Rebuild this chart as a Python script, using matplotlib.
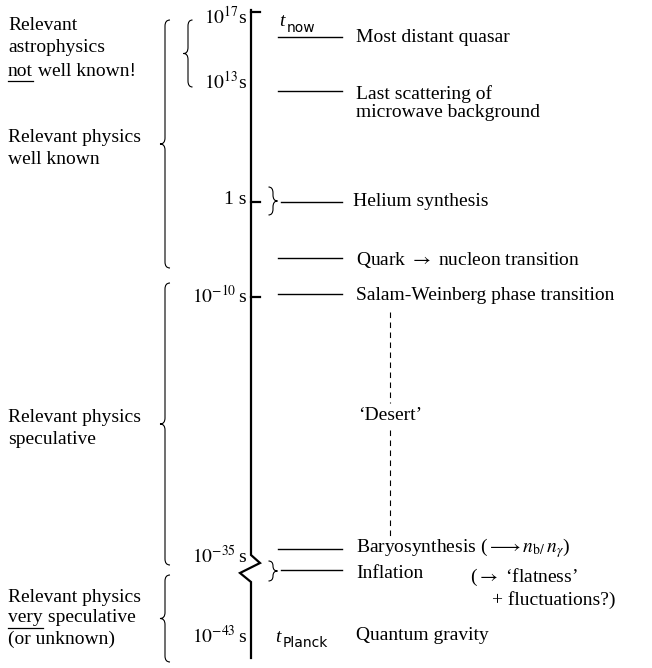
import matplotlib
matplotlib.use("Agg")
import matplotlib.pyplot as plt
from matplotlib.path import Path
from matplotlib.patches import PathPatch

plt.rcParams['font.family'] = ['Liberation Serif', 'DejaVu Serif']
plt.rcParams['mathtext.fontset'] = 'stix'

# time-axis epochs (label, vertical position on the drawing)
epoch_labels = [r'$10^{17}$s', r'$10^{13}$s', '1 s', r'$10^{-10}\,$s',
                r'$10^{-35}\,$s', r'$10^{-43}\,$s']
epoch_y = [17, 82, 200, 296, 556, 636]
tick_y = [12, 202, 297]

# events on the right of the axis
event_labels = ['Most distant quasar', 'Last scattering of\nmicrowave background',
                'Helium synthesis', r'Quark $\rightarrow$ nucleon transition',
                'Salam-Weinberg phase transition',
                r'Baryosynthesis ($\longrightarrow n_{\rm b/}\,n_{\gamma}$)',
                'Inflation', 'Quantum gravity']
event_text_y = [37, 103, 202, 260, 295, 548, 573, 636]
event_line_y = [37, 91, 202, 258, 294, 549, 570, None]

# regimes on the left, with the brace extent
regime_lines = [['Relevant', 'astrophysics', '_not_ well known!'],
                ['Relevant physics', 'well known'],
                ['Relevant physics', 'speculative'],
                ['Relevant physics', '_very_ speculative', '(or unknown)']]
regime_y = [[25, 47, 71], [138, 159], [418, 440], [598, 618, 639]]
brace_span = [(20, 87), (20, 268), (283, 565), (575, 662)]
brace_x = [188, 165, 165, 165]

FS = 14


def brace(ax, x, y0, y1, w, facing=1, lw=1.0):
    # facing=1 -> "{" (tip to the left), -1 -> "}"
    ym = (y0 + y1) / 2
    r = min(6, (y1 - y0) / 4)
    e = x + facing * w / 2
    tip = x - facing * w / 2
    verts = [(e, y0), (x, y0), (x, y0 + r), (x, ym - r), (x, ym), (tip, ym),
             (x, ym), (x, ym + r), (x, y1 - r), (x, y1), (e, y1)]
    codes = [Path.MOVETO, Path.CURVE3, Path.CURVE3, Path.LINETO, Path.CURVE3,
             Path.CURVE3, Path.CURVE3, Path.CURVE3, Path.LINETO, Path.CURVE3,
             Path.CURVE3]
    ax.add_patch(PathPatch(Path(verts, codes), fill=False, lw=lw, color='black'))


fig = plt.figure(figsize=(6.52, 6.68), dpi=100)
ax = fig.add_axes([0, 0, 1, 1])
ax.set_xlim(0, 652)
ax.set_ylim(668, 0)
ax.axis('off')

# main time axis with the zigzag break
ax.plot([251, 251, 260, 240, 251, 251], [10, 555, 563, 573, 582, 658],
        color='black', lw=1.6, solid_joinstyle='miter')
for ty in tick_y:
    ax.plot([251, 260], [ty, ty], color='black', lw=1.6)

for lab, y in zip(epoch_labels, epoch_y):
    ax.text(247, y, lab, ha='right', va='center', fontsize=FS)

# events
for lab, ty, ly in zip(event_labels, event_text_y, event_line_y):
    x0 = 353 if lab.startswith('Helium') else 356
    ax.text(x0, ty, lab, ha='left', va='center', fontsize=FS, linespacing=1.1)
    if ly is not None:
        xs = 281 if lab.startswith(('Helium', 'Inflation')) else 278
        ax.plot([xs, 342], [ly, ly], color='black', lw=1.0)

brace(ax, 273, 187, 215, 9, facing=-1, lw=0.8)
brace(ax, 273, 561, 581, 9, facing=-1, lw=0.8)

# t_now and t_Planck
ax.text(279, 22, 't', style='italic', fontsize=FS, va='center')
ax.text(287, 28, 'now', family='DejaVu Sans', fontsize=10, va='center')
ax.text(275, 637, 't', style='italic', fontsize=FS, va='center')
ax.text(283, 643, 'Planck', family='DejaVu Sans', fontsize=10, va='center')

ax.text(470, 577, r"($\rightarrow$ " + "\u2018flatness\u2019", fontsize=FS, va='center')
ax.text(492, 600, "+ fluctuations?)", fontsize=FS, va='center')

# the 'Desert'
ax.plot([390, 390], [312, 403], color='black', lw=0.8, ls=(0, (5, 4)))
ax.plot([390, 390], [430, 537], color='black', lw=0.8, ls=(0, (5, 4)))
ax.text(390, 416, "\u2018Desert\u2019", ha='center', va='center', fontsize=FS)

# regimes
fig.canvas.draw()
renderer = fig.canvas.get_renderer()
inv = ax.transData.inverted()
for lines, ys in zip(regime_lines, regime_y):
    for line, y in zip(lines, ys):
        if line.startswith('_'):
            word, rest = line[1:].split('_')
            t = ax.text(8, y, word, ha='left', va='center', fontsize=FS)
            bb = t.get_window_extent(renderer)
            (x0, y0), (x1, y1) = inv.transform([[bb.x0, bb.y0], [bb.x1, bb.y1]])
            ax.plot([x0, x1], [y0 + 1, y0 + 1], color='black', lw=0.9)
            ax.text(x1, y, rest, ha='left', va='center', fontsize=FS)
        else:
            ax.text(8, y, line, ha='left', va='center', fontsize=FS)

for (y0, y1), bx in zip(brace_span, brace_x):
    w = 10 if bx == 165 else 9
    brace(ax, bx, y0, y1, w, facing=1, lw=0.8)

fig.savefig('out.png', dpi=100)
